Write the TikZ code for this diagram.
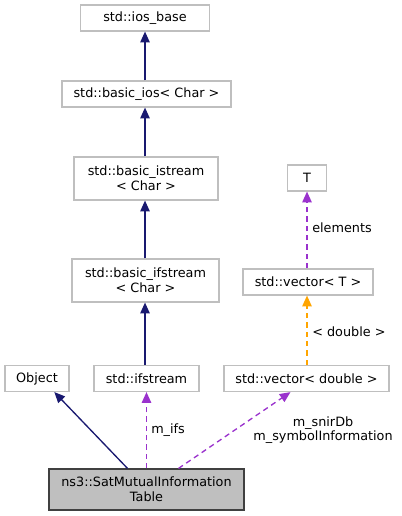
\documentclass[tikz,border=0pt]{standalone}
\usepackage{fontspec}
\setmainfont{DejaVu Sans}
\usetikzlibrary{arrows.meta,calc}
\definecolor{boxgray}{HTML}{BFBFBF}
\definecolor{darkborder}{HTML}{404040}
\definecolor{navy}{HTML}{191970}
\definecolor{orchid}{HTML}{9A32CD}
\definecolor{orng}{HTML}{FFA500}
\begin{document}
\begin{tikzpicture}[x=0.75pt,y=-0.75pt,
  every node/.style={font=\fontsize{9.6pt}{11pt}\selectfont, inner sep=0pt},
  cls/.style={draw=boxgray, fill=white, line width=0.9pt, align=center},
  mainbox/.style={draw=darkborder, fill=boxgray, line width=0.9pt, align=center},
  inh/.style={draw=navy, line width=1pt, -{Triangle[length=8pt,width=7pt,fill=navy]}},
  usage/.style={draw=orchid, line width=1pt, dash pattern=on 4pt off 3pt, -{Triangle[length=8pt,width=7pt,fill=orchid]}},
  tmpl/.style={draw=orng, line width=1pt, dash pattern=on 4pt off 3pt, -{Triangle[length=8pt,width=7pt,fill=orng]}},
  lbl/.style={font=\fontsize{9.6pt}{11pt}\selectfont, align=center}
]
\useasboundingbox (0,0) rectangle (401,516);
\node[cls, minimum width=96.75pt, minimum height=19.5pt] (iosbase) at (145,18) {std::ios\_base};
\node[cls, minimum width=126.75pt, minimum height=19.5pt] (basicios) at (146.5,94) {std::basic\_ios< Char >};
\node[cls, minimum width=108pt, minimum height=32.25pt] (istream) at (146,178.5) {std::basic\_istream\\< Char >};
\node[cls, minimum width=110.25pt, minimum height=32.25pt] (bifstream) at (145.5,280.5) {std::basic\_ifstream\\< Char >};
\node[cls, minimum width=48pt, minimum height=19.5pt] (object) at (37,378.5) {Object};
\node[cls, minimum width=78.75pt, minimum height=19.5pt] (ifstream) at (146.5,378.5) {std::ifstream};
\node[cls, minimum width=123.75pt, minimum height=19.5pt] (vecdouble) at (306.5,378.5) {std::vector< double >};
\node[cls, minimum width=29.25pt, minimum height=19.5pt] (T) at (307,178) {T};
\node[cls, minimum width=97.5pt, minimum height=19.5pt] (vecT) at (308,282) {std::vector< T >};
\node[mainbox, minimum width=146.25pt, minimum height=30.75pt] (sat) at (146.5,489.5) {ns3::SatMutualInformation\\Table};

\draw[inh] (basicios.north -| iosbase.south) -- (iosbase.south);
\draw[inh] (istream.north -| iosbase.south) -- (basicios.south -| iosbase.south);
\draw[inh] (bifstream.north -| iosbase.south) -- (istream.south -| iosbase.south);
\draw[inh] (ifstream.north -| iosbase.south) -- (bifstream.south -| iosbase.south);
\draw[inh] ([xshift=-14.25pt]sat.north) -- ([xshift=13pt]object.south);
\draw[usage] (sat.north -| ifstream.south) -- (ifstream.south);
\draw[usage] ([xshift=24pt]sat.north) -- ([xshift=-12pt]vecdouble.south);
\draw[tmpl] (vecdouble.north -| T.south) -- (vecT.south -| T.south);
\draw[usage] (vecT.north -| T.south) -- (T.south);

\node[lbl, anchor=west] (lifs) at (151,430) {m\_ifs};
\node[lbl] (lsnir) at (323,430) {m\_snirDb\\m\_symbolInformation};
\node[lbl, anchor=west] (lelem) at (312,228) {elements};
\node[lbl, anchor=west] (ldouble) at (312,332) {< double >};
\end{tikzpicture}
\end{document}
